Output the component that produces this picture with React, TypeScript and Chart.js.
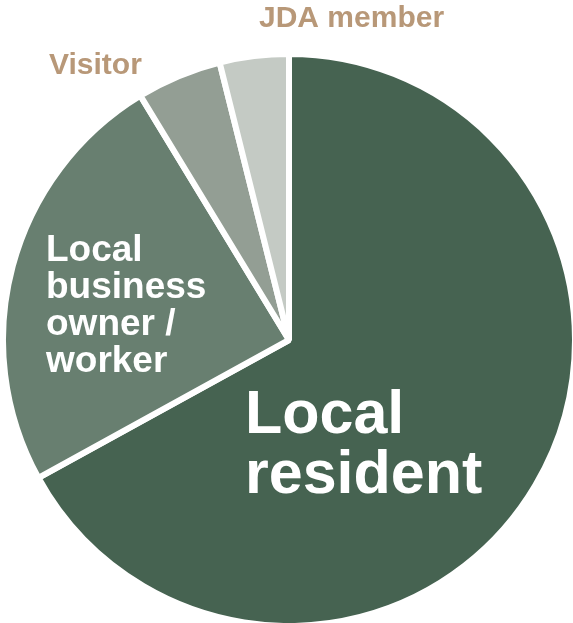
import React, { useEffect, useRef } from "react";
import { Chart, registerables } from "chart.js";

Chart.register(...registerables);

const categories = ["Local resident", "Local business owner / worker", "Visitor", "JDA member"];
const shares = [67.0, 24.3, 4.8, 3.9];
const sliceColors = ["#466351", "#687f70", "#939e94", "#c4cac4"];

// label text lines for each category
const labelLines = [["Local", "resident"], ["Local", "business", "owner /", "worker"], ["Visitor"], ["JDA member"]];

// label layout: offsets from pie centre (px), font size, line height, colour
const labelLayout = [
  { dx: -44, dy: 93, size: 61, lh: 60, color: "#ffffff" },
  { dx: -243, dy: -79, size: 37, lh: 37, color: "#ffffff" },
  { dx: -240, dy: -266, size: 30, lh: 30, color: "#b89878" },
  { dx: -30, dy: -313, size: 30, lh: 30, color: "#b89878" },
];

const labelPlugin = {
  id: "sliceLabels",
  afterDraw(chart: any) {
    const meta = chart.getDatasetMeta(0);
    if (!meta || !meta.data.length) return;
    const arc = meta.data[0];
    const cx = arc.x;
    const cy = arc.y;
    const ctx = chart.ctx;
    ctx.save();
    ctx.textAlign = "left";
    ctx.textBaseline = "alphabetic";
    labelLines.forEach((lines, i) => {
      const L = labelLayout[i];
      ctx.fillStyle = L.color;
      ctx.font = `bold ${L.size}px "Liberation Sans", Arial, sans-serif`;
      lines.forEach((t, j) => {
        ctx.fillText(t, cx + L.dx, cy + L.dy + j * L.lh);
      });
    });
    ctx.restore();
  },
};

export default function App() {
  const canvasRef = useRef<HTMLCanvasElement | null>(null);

  useEffect(() => {
    document.body.style.margin = "0";
    const canvas = canvasRef.current;
    if (!canvas) return;
    const chart = new Chart(canvas, {
      type: "pie",
      data: {
        labels: categories,
        datasets: [
          {
            data: shares,
            backgroundColor: sliceColors,
            borderColor: "#ffffff",
            borderWidth: 6,
            hoverOffset: 0,
          },
        ],
      },
      options: {
        responsive: false,
        animation: false,
        radius: 286,
        layout: { padding: { left: 5, top: 57, right: 0, bottom: 0 } },
        plugins: {
          legend: { display: false },
          tooltip: { enabled: false },
        },
      },
      plugins: [labelPlugin],
    } as any);
    return () => chart.destroy();
  }, []);

  return (
    <div style={{ width: 573, height: 623, background: "#ffffff" }}>
      <canvas ref={canvasRef} width={573} height={623} style={{ display: "block", width: 573, height: 623 }} />
    </div>
  );
}
